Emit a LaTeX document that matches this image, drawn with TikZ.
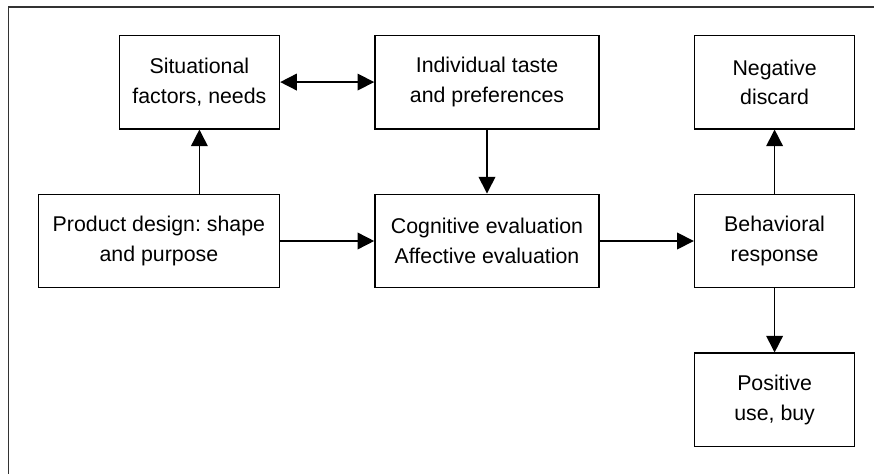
\documentclass[tikz,border=0pt]{standalone}
\usepackage{fontspec}
\setmainfont{Liberation Sans}
\usetikzlibrary{positioning,arrows.meta}

\begin{document}
\begin{tikzpicture}
\fontsize{16pt}{22pt}\selectfont\frenchspacing
\tikzset{box/.style={draw,line width=1.2pt,align=center,minimum height=70pt,inner sep=0pt}}
\tikzset{flow/.style={line width=1.2pt,-{Triangle[length=12.5pt,width=12.5pt]}}}
\tikzset{node distance=48pt and 70.5pt}
\useasboundingbox (-365.25pt,-174.75pt) rectangle (290.25pt,180.75pt);
% frame (only left and top edge show)
\draw[line width=1.2pt,black!80] (-358.9pt,-174.75pt) -- (-358.9pt,175.5pt) -- (290.25pt,175.5pt);
% middle row
\node[box,minimum width=168pt] (cog) at (0,0) {Cognitive evaluation\\Affective evaluation};
\node[box,minimum width=180.75pt,left=of cog] (prod) {Product design: shape\\and purpose};
\node[box,minimum width=120pt,right=of cog] (beh) {Behavioral\\response};
% top row
\node[box,minimum width=168pt,above=of cog] (ind) {Individual taste\\and preferences};
\node[box,minimum width=120pt,left=of ind] (sit) {Situational\\factors, needs};
\node[box,minimum width=120pt,above=of beh] (neg) {Negative\\discard};
% bottom
\node[box,minimum width=120pt,below=of beh] (pos) {Positive\\use, buy};
\draw[flow] (prod) -- (cog);
\draw[flow] (cog) -- (beh);
\draw[flow] (ind) -- (cog);
\draw[flow,{Triangle[length=12.5pt,width=12.5pt]}-{Triangle[length=12.5pt,width=12.5pt]}] (sit) -- (ind);
\draw[flow] (sit |- prod.north) -- (sit);
\draw[flow] (beh) -- (neg);
\draw[flow] (beh) -- (pos);
\end{tikzpicture}
\end{document}
